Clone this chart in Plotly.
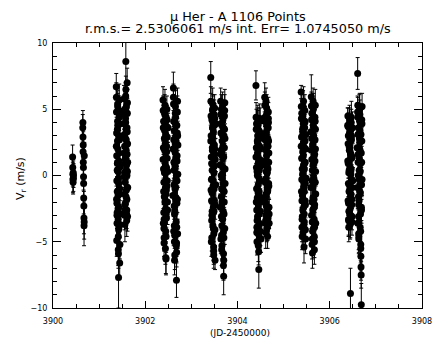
import numpy as np
import plotly.graph_objects as go

# ---------------- data ----------------
# Each night: base day, time offsets within the night (in 0.001 d),
# radial velocities (m/s) and their errors (m/s).
night_days = [3900, 3900, 3901, 3902, 3903, 3904, 3905, 3906]

t_n1 = [425, 428, 431, 433, 436, 439, 441, 444]
v_n1 = [1.4, 0.6, 0.1, -0.3, -0.5, 0.2, -0.2, 0.0]
e_n1 = [0.9, 0.9, 0.9, 1.0, 0.9, 0.9, 1.0, 0.9]

t_n2 = [645, 648, 650, 652, 655, 657, 659, 662, 664, 666, 669, 671, 673, 676, 678]
v_n2 = [3.6, 4.0, 2.9, 1.8, 2.3, 1.0, 0.6, -0.1, -0.6, -1.7, -2.3, -3.2, -3.8, -3.5, 1.5]
e_n2 = [1.0, 0.9, 1.0, 1.1, 1.0, 1.1, 1.0, 1.0, 1.1, 1.2, 1.1, 1.2, 1.5, 1.3, 1.0]

t_n3 = [372, 374, 377, 379, 381, 384, 386, 388, 391, 393, 395, 398, 400, 402, 405, 407, 409, 412,
        414, 416, 419, 421, 423, 426, 428, 430, 433, 435, 437, 440, 442, 444, 447, 449, 451,
        540, 543, 546, 548, 551, 554, 557, 559, 562, 565, 568, 570, 573, 576, 579, 581, 584, 587,
        590, 592, 595, 598, 601, 603, 606, 609, 612, 614, 617, 620,
        373, 378, 382, 387, 392, 396, 401, 406, 410, 415, 420, 424, 429, 434, 438, 443, 446, 450, 453, 455,
        541, 545, 550, 553, 558, 563, 567, 572, 575, 580, 583, 588, 591, 596, 600, 604, 608, 613, 616, 619]
v_n3 = [6.7, 5.9, 4.8, 3.2, 1.5, -0.4, -2.1, -3.6, -2.8, -1.2, 0.9, 2.6, 4.1, 5.2, 3.8, 2.0, 0.3, -1.5,
        -3.3, -4.6, -5.9, -7.7, -4.1, -2.4, -0.6, 1.1, 2.9, 4.4, 5.7, 4.9, 2.7, 0.6, -1.0, -2.9, -5.2,
        5.8, 4.6, 3.1, 1.7, 0.2, -1.4, -2.6, -3.7, -2.2, -0.5, 1.2, 2.8, 4.3, 6.0, 8.6, 5.1, 3.5, 1.9,
        0.4, -1.1, -2.9, -3.4, -1.8, 0.0, 1.6, 3.3, 4.7, 5.5, 2.4, -0.9,
        2.2, -1.8, -4.9, -3.0, 0.4, 3.5, 5.4, 1.0, -2.5, -5.6, -0.2, 3.0, -3.9, 1.7, 4.6, -1.4, -6.6, -3.7, 0.7, 3.9,
        3.9, -0.1, -3.0, 2.2, 5.0, 0.9, -2.1, 1.4, 4.0, 6.5, -1.6, 2.7, 5.2, 0.8, -2.6, 3.6, 7.0, 0.3, -3.1, 1.0]
e_n3 = [1.0, 1.1, 1.0, 1.2, 1.1, 1.0, 1.1, 1.2, 1.0, 1.1, 1.0, 1.2, 1.1, 1.0, 1.1, 1.2, 1.0, 1.1,
        1.0, 1.2, 1.1, 2.3, 1.0, 1.1, 1.2, 1.0, 1.1, 1.0, 1.2, 1.1, 1.0, 1.1, 1.2, 1.0, 1.1,
        1.0, 1.1, 1.0, 1.2, 1.1, 1.0, 1.1, 1.3, 1.0, 1.1, 1.0, 1.2, 1.1, 1.0, 2.2, 1.1, 1.0, 1.1,
        1.2, 1.0, 1.1, 1.2, 1.0, 1.1, 1.0, 1.2, 1.1, 1.0, 1.1, 1.0,
        1.1, 1.0, 1.2, 1.0, 1.1, 1.2, 1.0, 1.1, 1.0, 1.2, 1.1, 1.0, 1.2, 1.1, 1.0, 1.1, 1.2, 1.0, 1.1, 1.0,
        1.0, 1.2, 1.1, 1.0, 1.1, 1.2, 1.0, 1.1, 1.2, 1.0, 1.1, 1.0, 1.2, 1.1, 1.0, 1.2, 1.1, 1.0, 1.1, 1.2]

t_n4 = [385, 388, 391, 393, 396, 399, 402, 405, 407, 410, 413, 416, 419, 422, 424, 427, 430, 433,
        436, 438, 441, 444, 447, 450, 452, 455, 458, 461, 464, 466, 469, 472, 475, 478, 481,
        610, 613, 616, 618, 621, 624, 627, 630, 632, 635, 638, 641, 644, 647, 649, 652, 655, 658,
        661, 663, 666, 669, 672, 675, 677, 680, 683, 686, 689, 691, 694, 697, 700, 703, 706,
        386, 392, 398, 404, 409, 415, 421, 426, 432, 437, 443, 449, 454, 460, 465, 471, 477, 484, 489, 495,
        598, 604, 611, 617, 623, 628, 634, 640, 645, 651, 657, 662, 668, 674, 679, 685, 690, 696, 702, 708]
v_n4 = [5.7, 4.9, 3.6, 2.1, 0.5, -1.2, -2.8, -4.0, -5.1, -3.3, -1.6, 0.2, 1.9, 3.4, 4.6, 5.3, 3.9, 2.4,
        0.8, -0.9, -2.5, -4.2, -6.2, -6.3, -4.6, -2.9, -1.1, 0.6, 2.2, 3.7, 5.0, 4.2, 1.3, -0.4, -2.0,
        6.6, 5.4, 4.1, 2.7, 1.0, -0.7, -2.3, -3.8, -5.0, -6.4, -4.5, -2.7, -1.0, 0.7, 2.4, 3.9, 5.2, 4.4,
        2.9, 1.3, -0.3, -1.9, -3.5, -5.3, -7.9, -5.8, -3.9, -2.1, -0.4, 1.5, 3.2, 4.8, 5.6, 3.0, 0.1,
        1.2, -3.6, 4.1, -0.5, -4.7, 2.8, 5.0, -2.0, 0.6, -5.5, 3.1, -1.4, 4.4, -3.2, 1.8, -0.8, 2.9, -2.6, 0.3, 3.6,
        -1.5, 2.0, 5.9, -4.2, 0.4, 3.4, -2.9, -6.0, 1.8, 4.7, -0.9, -3.9, 2.6, 0.0, -5.1, 3.8, 1.1, -1.8, -4.4, 2.3]
e_n4 = [1.0, 1.1, 1.0, 1.2, 1.1, 1.0, 1.1, 1.2, 1.0, 1.1, 1.0, 1.2, 1.1, 1.0, 1.1, 1.2, 1.0, 1.1,
        1.0, 1.2, 1.1, 1.2, 1.2, 1.2, 1.2, 1.0, 1.1, 1.0, 1.2, 1.1, 1.0, 1.1, 1.2, 1.0, 1.1,
        1.2, 1.0, 1.1, 1.0, 1.2, 1.1, 1.0, 1.1, 1.2, 1.1, 1.0, 1.1, 1.2, 1.0, 1.1, 1.0, 1.2, 1.1,
        1.0, 1.1, 1.2, 1.0, 1.1, 1.2, 1.3, 1.1, 1.0, 1.2, 1.1, 1.0, 1.1, 1.2, 1.0, 1.1, 1.0,
        1.0, 1.1, 1.2, 1.1, 1.0, 1.2, 1.1, 1.0, 1.1, 1.2, 1.0, 1.1, 1.0, 1.2, 1.1, 1.0, 1.2, 1.1, 1.0, 1.1,
        1.1, 1.2, 1.0, 1.1, 1.2, 1.0, 1.1, 1.1, 1.2, 1.0, 1.0, 1.1, 1.2, 1.1, 1.0, 1.1, 1.2, 1.0, 1.1, 1.0]

t_n5 = [420, 423, 426, 428, 431, 434, 437, 440, 442, 445, 448, 451, 454, 457, 459, 462, 465, 468,
        471, 473, 476, 479, 482, 485, 487, 490, 493, 496, 499, 501, 504, 507, 510, 513, 516,
        635, 638, 641, 643, 646, 649, 652, 655, 657, 660, 663, 666, 669, 672, 674, 677, 680, 683,
        686, 688, 691, 694, 697, 700, 702, 705, 708, 711, 714, 716, 719, 722, 725, 728, 731,
        421, 427, 433, 439, 444, 450, 456, 461, 467, 472, 478, 484, 489, 495, 500, 506, 512, 518, 524, 530,
        622, 628, 634, 640, 645, 651, 656, 662, 668, 673, 679, 684, 690, 696, 701, 707, 712, 718, 724, 730]
v_n5 = [7.4, 5.6, 4.5, 3.0, 1.4, -0.3, -1.9, -3.4, -4.7, -3.0, -1.3, 0.4, 2.1, 3.6, 4.9, 5.4, 4.0, 2.5,
        0.9, -0.8, -2.4, -4.0, -5.4, -6.0, -4.4, -2.7, -1.0, 0.7, 2.3, 3.8, 5.1, 4.3, 1.6, -6.4, -2.2,
        5.6, 4.6, 3.2, 1.6, 0.0, -1.6, -3.1, -4.5, -5.6, -3.8, -2.0, -0.2, 1.5, 3.1, 4.5, 5.3, 3.7, 2.2,
        0.6, -1.1, -2.7, -4.3, -5.9, -7.6, -6.4, -4.7, -2.9, -1.2, 0.5, 2.1, 3.5, 4.9, 5.5, 2.8, -0.6,
        2.6, -1.1, -5.0, 0.9, 4.2, -2.7, 1.9, 5.0, -3.8, -0.4, 3.3, -5.7, 0.2, 4.6, -1.9, 2.0, -4.1, 1.2, 3.9, -0.7,
        0.8, -2.4, 3.9, -4.8, 1.9, 5.0, -1.0, -5.3, 2.6, 0.1, -3.3, 4.2, -0.6, -6.8, 1.4, 3.0, -2.0, 4.5, -4.0, 0.5]
e_n5 = [1.2, 1.1, 1.0, 1.2, 1.1, 1.0, 1.1, 1.2, 1.0, 1.1, 1.0, 1.2, 1.1, 1.0, 1.1, 1.2, 1.0, 1.1,
        1.0, 1.2, 1.1, 1.2, 1.0, 1.0, 1.2, 1.0, 1.1, 1.0, 1.2, 1.1, 1.0, 1.1, 1.2, 0.7, 1.1,
        1.0, 1.0, 1.1, 1.0, 1.2, 1.1, 1.0, 1.1, 1.2, 1.1, 1.0, 1.1, 1.2, 1.0, 1.1, 1.0, 1.2, 1.1,
        1.0, 1.1, 1.2, 1.0, 1.1, 1.4, 1.2, 1.1, 1.0, 1.2, 1.1, 1.0, 1.1, 1.2, 1.0, 1.1, 1.0,
        1.2, 1.0, 1.1, 1.0, 1.2, 1.1, 1.0, 1.1, 1.2, 1.0, 1.1, 1.0, 1.2, 1.1, 1.0, 1.1, 1.2, 1.0, 1.1, 1.0,
        1.1, 1.0, 1.2, 1.1, 1.0, 1.1, 1.2, 1.0, 1.1, 1.0, 1.1, 1.2, 1.0, 1.1, 1.2, 1.0, 1.1, 1.0, 1.2, 1.1]

t_n6 = [400, 403, 406, 408, 411, 414, 417, 420, 422, 425, 428, 431, 434, 437, 439, 442, 445, 448,
        451, 453, 456, 459, 462, 465, 467, 470, 473, 476, 479, 481, 484, 487, 490, 493, 496,
        590, 593, 596, 598, 601, 604, 607, 610, 612, 615, 618, 621, 624, 627, 629, 632, 635, 638,
        641, 643, 646, 649, 652, 655, 657, 660, 663, 666, 669, 671, 674, 677, 680, 683, 686,
        401, 407, 412, 418, 424, 429, 435, 441, 446, 452, 458, 463, 469, 475, 480, 486, 492, 498, 504, 510,
        578, 584, 590, 595, 601, 607, 612, 618, 624, 629, 635, 641, 646, 652, 658, 663, 669, 675, 680, 686]
v_n6 = [6.8, 4.4, 3.5, 2.1, 0.6, -1.0, -2.6, -3.9, -5.0, -3.4, -1.7, 0.0, 1.7, 3.0, 4.2, 3.7, 2.4, 0.9,
        -0.7, -2.3, -3.8, -5.75, -7.1, -4.5, -2.9, -1.2, 0.4, 2.0, 3.3, 4.3, 2.8, 1.2, -0.4, -2.0, -4.2,
        5.9, 5.3, 4.1, 2.7, 1.1, -0.5, -2.1, -3.4, -4.3, -3.0, -1.4, 0.3, 1.9, 3.3, 4.6, 5.1, 3.8, 2.3,
        0.7, -0.9, -2.5, -3.9, -4.6, -2.8, -1.1, 0.5, 2.2, 3.6, 4.8, 4.0, 2.6, 1.0, -0.8, -2.4, -3.6,
        1.4, -2.0, 3.9, -4.3, 0.3, 2.6, -3.1, 4.0, -1.3, -5.3, 1.0, 3.4, -0.2, -3.6, 2.2, -1.6, 4.1, -2.7, 0.7, -4.8,
        3.0, -1.8, 0.9, 4.4, -3.6, 2.0, -0.3, 5.6, -2.3, 1.5, -4.0, 3.9, 0.2, -1.2, 2.8, -3.2, 4.3, -0.6, 1.7, -2.9]
e_n6 = [1.1, 1.1, 1.0, 1.2, 1.1, 1.0, 1.1, 1.2, 1.0, 1.1, 1.0, 1.2, 1.1, 1.0, 1.1, 1.2, 1.0, 1.1,
        1.0, 1.2, 1.1, 1.0, 1.4, 1.1, 1.2, 1.0, 1.1, 1.0, 1.2, 1.1, 1.0, 1.1, 1.2, 1.0, 1.1,
        1.1, 1.0, 1.1, 1.0, 1.2, 1.1, 1.0, 1.1, 1.2, 1.1, 1.0, 1.1, 1.2, 1.0, 1.1, 1.0, 1.2, 1.1,
        1.0, 1.1, 1.2, 1.0, 0.9, 1.2, 1.1, 1.1, 1.0, 1.2, 1.1, 1.0, 1.1, 1.2, 1.0, 1.1, 1.0,
        1.0, 1.2, 1.1, 1.0, 1.1, 1.0, 1.2, 1.1, 1.0, 1.2, 1.1, 1.0, 1.1, 1.2, 1.0, 1.1, 1.0, 1.2, 1.1, 1.0,
        1.2, 1.1, 1.0, 1.1, 1.0, 1.2, 1.1, 1.0, 1.1, 1.2, 1.0, 1.1, 1.2, 1.0, 1.1, 1.0, 1.2, 1.1, 1.0, 1.1]

t_n7 = [380, 383, 386, 388, 391, 394, 397, 400, 402, 405, 408, 411, 414, 417, 419, 422, 425, 428,
        431, 433, 436, 439, 442, 445, 447, 450, 453, 456, 459, 461, 464, 467, 470, 473, 476,
        600, 603, 606, 608, 611, 614, 617, 620, 622, 625, 628, 631, 634, 637, 639, 642, 645, 648,
        651, 653, 656, 659, 662, 665, 667, 670, 673, 676, 679, 681, 684, 687, 690, 693, 696,
        381, 387, 393, 398, 404, 410, 415, 421, 427, 432, 438, 444, 449, 455, 461, 466, 472, 478, 484, 490,
        588, 594, 600, 605, 611, 617, 622, 628, 634, 639, 645, 651, 656, 662, 668, 673, 679, 685, 690, 696]
v_n7 = [6.3, 5.2, 4.3, 2.9, 1.3, -0.3, -1.9, -3.3, -4.6, -3.1, -1.5, 0.1, 1.8, 3.2, 4.5, 5.2, 3.9, 2.5,
        0.8, -0.9, -2.4, -3.8, -5.4, -2.9, -1.2, 0.5, 2.1, 3.6, 4.9, 4.1, 2.6, 1.0, -0.6, -2.2, -4.8,
        5.95, 5.25, 4.2, 2.8, 1.2, -0.4, -2.0, -3.5, -4.8, -5.85, -4.2, -2.6, -0.9, 0.8, 2.4, 3.8, 5.0, 4.4,
        3.0, 1.4, -0.2, -1.8, -3.3, -4.6, -5.6, -3.9, -2.2, -0.5, 1.1, 2.7, 4.1, 5.3, 3.5, 0.3, -1.4,
        2.2, -1.2, 4.7, -3.9, 0.5, 3.5, -2.6, -4.3, 1.5, 5.6, -0.6, 2.8, -3.5, 0.9, 4.0, -1.9, -4.1, 2.0, 3.1, -0.2,
        -0.9, 3.3, 1.9, -3.0, 4.7, -5.2, 0.4, 2.3, -1.7, 5.6, -4.0, 0.9, 3.6, -2.4, -5.0, 1.6, 4.4, -0.5, 2.0, -3.6]
e_n7 = [0.5, 1.1, 1.0, 1.2, 1.1, 1.0, 1.1, 1.2, 1.0, 1.1, 1.0, 1.2, 1.1, 1.0, 1.1, 1.2, 1.0, 1.1,
        1.0, 1.2, 1.1, 1.2, 1.2, 1.1, 1.2, 1.0, 1.1, 1.0, 1.2, 1.1, 1.0, 1.1, 1.2, 1.0, 1.1,
        1.65, 1.05, 1.1, 1.0, 1.2, 1.1, 1.0, 1.1, 1.2, 1.15, 1.0, 1.1, 1.2, 1.0, 1.1, 1.0, 1.2, 1.1,
        1.0, 1.1, 1.2, 1.0, 1.1, 1.2, 1.1, 1.1, 1.0, 1.2, 1.1, 1.0, 1.1, 1.2, 1.0, 1.1, 1.0,
        1.1, 1.2, 1.0, 1.1, 1.0, 1.2, 1.1, 1.0, 1.2, 1.1, 1.0, 1.1, 1.0, 1.2, 1.1, 1.0, 1.2, 1.1, 1.0, 1.1,
        1.0, 1.1, 1.2, 1.0, 1.1, 1.1, 1.2, 1.0, 1.1, 1.0, 1.2, 1.1, 1.0, 1.1, 1.2, 1.0, 1.0, 1.1, 1.2, 1.1]

t_n8 = [390, 393, 396, 398, 401, 404, 407, 410, 412, 415, 418, 421, 424, 427, 429, 432, 435, 438,
        441, 443, 446, 449, 452, 455, 457, 460, 463, 466, 469, 471, 474, 477, 480, 483, 486,
        605, 608, 611, 613, 616, 619, 622, 625, 627, 630, 633, 636, 639, 642, 644, 647, 650, 653,
        656, 658, 661, 664, 667, 670, 672, 675, 678, 681, 684, 686, 689, 692, 695, 698, 701,
        391, 397, 403, 408, 414, 420, 425, 431, 437, 442, 448, 454, 459, 465, 471, 476, 482, 488, 494, 500,
        592, 598, 604, 609, 615, 621, 626, 632, 638, 643, 649, 655, 660, 666, 672, 677, 683, 689, 694, 700]
v_n8 = [3.8, 4.5, 3.7, 2.4, 0.9, -0.6, -2.1, -3.3, -3.9, -2.7, -1.2, 0.4, 1.9, 3.2, 4.2, 3.5, 2.1, 0.6,
        -1.0, -2.5, -3.6, -8.9, -3.0, -1.5, 0.1, 1.6, 2.9, 4.0, 4.4, 3.0, 1.3, -0.3, -1.8, -3.1, -0.9,
        7.7, 5.3, 4.4, 3.1, 1.6, 0.0, -1.6, -3.1, -4.4, -4.8, -3.5, -1.9, -0.3, 1.3, 2.8, 4.1, 5.0, 4.6,
        3.4, 1.9, 0.3, -1.3, -2.9, -4.2, -5.5, -6.1, -6.9, -7.5, -9.75, -2.4, -0.7, 1.0, 2.6, 3.9, 5.2,
        1.1, -1.9, 3.0, -3.4, 0.2, 2.3, -2.8, 4.0, -0.8, -3.7, 1.7, 3.4, -1.4, 0.5, 2.7, -2.2, -3.5, 1.4, 3.6, -0.4,
        2.1, -0.9, 4.8, -3.6, 1.0, 3.6, -2.2, -4.6, 0.4, 5.1, -1.2, 2.5, -3.9, 0.9, -5.2, 3.1, 1.7, -2.6, 4.2, -0.3]
e_n8 = [1.3, 0.6, 1.0, 1.2, 1.1, 1.0, 1.1, 1.2, 1.1, 1.1, 1.0, 1.2, 1.1, 1.0, 1.1, 1.2, 1.0, 1.1,
        1.0, 1.2, 1.1, 1.9, 1.0, 1.1, 1.2, 1.0, 1.1, 1.0, 1.2, 1.1, 1.0, 1.1, 1.2, 1.0, 1.1,
        1.2, 0.6, 1.1, 1.0, 1.2, 1.1, 1.0, 1.1, 1.2, 1.1, 1.0, 1.1, 1.2, 1.0, 1.1, 1.0, 1.2, 1.1,
        1.0, 1.1, 1.2, 1.0, 1.1, 1.2, 1.1, 1.1, 1.0, 1.0, 1.6, 1.0, 1.1, 1.2, 1.0, 1.1, 1.0,
        1.0, 1.1, 1.0, 1.2, 1.1, 1.0, 1.2, 1.1, 1.0, 1.1, 1.2, 1.0, 1.1, 1.0, 1.2, 1.1, 1.0, 1.1, 1.2, 1.0,
        1.1, 1.0, 1.2, 1.1, 1.0, 1.1, 1.0, 1.2, 1.1, 1.0, 1.2, 1.1, 1.0, 1.1, 1.2, 1.0, 1.1, 1.0, 1.1, 1.2]

title_line1 = "μ Her - A 1106 Points"
title_line2 = "r.m.s.= 2.5306061 m/s int. Err= 1.0745050 m/s"
x_title = "(JD-2450000)"
y_title = "V<sub>r</sub> (m/s)"

# ---------------- assemble ----------------
T = [t_n1, t_n2, t_n3, t_n4, t_n5, t_n6, t_n7, t_n8]
V = [v_n1, v_n2, v_n3, v_n4, v_n5, v_n6, v_n7, v_n8]
E = [e_n1, e_n2, e_n3, e_n4, e_n5, e_n6, e_n7, e_n8]
xs, ys, es = [], [], []
for day, t, v, e in zip(night_days, T, V, E):
    assert len(t) == len(v) == len(e), (day, len(t), len(v), len(e))
    xs.extend(day + np.array(t) / 1000.0)
    ys.extend(v)
    es.extend(e)

fig = go.Figure()
fig.add_trace(go.Scatter(
    x=xs, y=ys, mode="markers",
    marker=dict(symbol="circle", size=7, color="black", line=dict(width=0)),
    error_y=dict(type="data", array=es, visible=True, color="black", thickness=1, width=2),
    showlegend=False,
))

axis_common = dict(
    showline=True, linecolor="black", linewidth=1, mirror="ticks",
    ticks="inside", tickcolor="black", tickwidth=1,
    showgrid=False, zeroline=False,
    tickfont=dict(family="DejaVu Sans", size=8, color="black"),
)
fig.update_xaxes(range=[3900, 3908], tick0=3900, dtick=2, ticklen=7, ticklabelstandoff=5,
                 minor=dict(dtick=0.5, ticks="inside", ticklen=4, tickcolor="black", showgrid=False),
                 **axis_common)
fig.update_yaxes(range=[-10, 10], tick0=0, dtick=5, ticklen=8, ticklabelstandoff=3,
                 minor=dict(dtick=1, ticks="inside", ticklen=4, tickcolor="black", showgrid=False),
                 **axis_common)

fig.update_layout(
    width=443, height=342,
    margin=dict(l=53, r=11, t=43, b=34),
    plot_bgcolor="white", paper_bgcolor="white",
    font=dict(family="DejaVu Sans", color="black"),
    annotations=[
        dict(text=title_line1, xref="paper", yref="paper", x=0.5, y=1.10,
             xanchor="center", yanchor="middle", showarrow=False, font=dict(size=12.8)),
        dict(text=title_line2, xref="paper", yref="paper", x=0.5, y=1.055,
             xanchor="center", yanchor="middle", showarrow=False, font=dict(size=12.8)),
        dict(text=x_title, xref="paper", yref="paper", x=0.507, y=-0.094,
             xanchor="center", yanchor="middle", showarrow=False, font=dict(size=9)),
        dict(text=y_title, xref="paper", yref="paper", x=-0.087, y=0.49, textangle=-90,
             xanchor="center", yanchor="middle", showarrow=False, font=dict(size=11)),
    ],
)

fig.write_html("out.html")
